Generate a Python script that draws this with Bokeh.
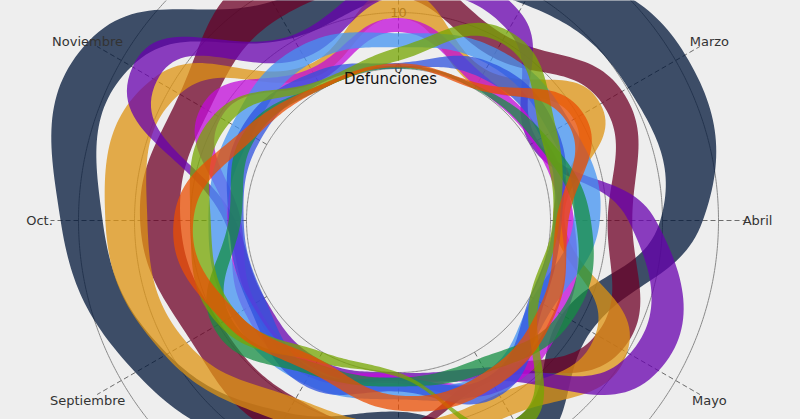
import math
import numpy as np
from bokeh.plotting import figure
from bokeh.models import Range1d, Label
from bokeh.core.properties import value
from bokeh.embed import file_html
from bokeh.resources import INLINE

# ---------------- data ----------------
months = ["Enero", "Febrero", "Marzo", "Abril", "Mayo", "Junio", "Julio",
          "Agosto", "Septiembre", "Oct.", "Noviembre", "Diciembre"]
y_ticks = [0, 10, 20, 30]
y_title = "Defunciones"

s1_low  = [13.0, 17.5, 20.2, 19.6, 6.5, 14.0, 7.0, 12.5, 20.5, 25.7, 27.9, 10.5]
s1_high = [21.0, 26.0, 32.0, 27.2, 12.5, 20.5, 14.0, 20.0, 27.1, 33.2, 36.8, 18.0]

s2_low  = [13.0, 6.5, 14.8, 10.2, 13.6, 4.0, 9.5, 9.5, 9.6, 11.8, 12.0, 14.8]
s2_high = [19.0, 11.0, 19.0, 14.6, 19.0, 6.0, 11.5, 16.5, 15.7, 19.0, 18.0, 24.0]

s3_low  = [9.0, 0.5, 9.0, 0.5, 13.5, 8.6, 9.0, 9.5, 16.5, 17.7, 18.0, 2.5]
s3_high = [14.0, 4.0, 14.5, 2.5, 20.0, 13.0, 14.0, 14.5, 21.0, 25.2, 23.5, 5.0]

s4_low  = [13.0, 12.0, 0.0, 13.9, 20.5, 3.2, 0.0, 1.4, 0.5, 2.0, 22.7, 6.4]
s4_high = [16.6, 16.0, 1.5, 18.8, 26.5, 5.9, 1.5, 4.6, 3.2, 4.0, 27.7, 11.0]

s5_low  = [6.5, 0.5, 0.5, 1.8, 5.0, 5.4, 0.3, 2.3, 2.3, 1.0, 9.5, 1.5]
s5_high = [9.0, 3.0, 2.8, 4.2, 7.2, 8.2, 2.0, 5.0, 4.8, 3.3, 13.5, 4.2]

s6_low  = [3.8, 5.0, 4.0, 4.1, 0.5, 4.0, 2.0, 3.2, 3.0, 3.4, 3.2, 5.0]
s6_high = [6.3, 8.2, 8.2, 8.8, 4.5, 7.2, 4.8, 6.5, 7.2, 6.8, 7.2, 8.6]

s7_low  = [0.0, 2.3, 2.3, 0.5, 0.0, 5.0, 0.9, 3.6, 0.5, 0.5, 1.4, 1.0]
s7_high = [1.0, 5.5, 5.5, 2.0, 2.8, 9.0, 3.4, 6.8, 3.6, 3.2, 5.4, 3.4]

s8_low  = [0.0, 0.0, 1.0, 4.5, 6.0, 1.4, 0.9, 2.3, 7.5, 1.0, 2.3, 0.0]
s8_high = [0.5, 0.7, 3.2, 7.2, 8.6, 4.2, 2.5, 4.6, 11.0, 3.2, 4.6, 0.8]

s9_low  = [1.4, 9.5, 2.3, 0.4, 0.0, 14.0, 0.0, 0.0, 6.0, 6.4, 7.7, 0.2]
s9_high = [3.8, 12.0, 5.4, 1.6, 1.8, 16.5, 0.8, 2.0, 10.0, 10.0, 10.8, 1.6]

s10_low  = [0.2, 0.0, 7.7, 1.0, 2.3, 4.0, 4.1, 1.4, 6.0, 9.5, 2.5, 0.0]
s10_high = [0.9, 1.2, 11.0, 3.2, 5.4, 7.2, 6.8, 4.2, 9.0, 13.0, 5.0, 0.8]

series = [
    ("s1", s1_low, s1_high, "#3d4d66"),
    ("s2", s2_low, s2_high, "#8e2e57"),
    ("s3", s3_low, s3_high, "#e2aa48"),
    ("s4", s4_low, s4_high, "#892cbe"),
    ("s5", s5_low, s5_high, "#cc44de"),
    ("s6", s6_low, s6_high, "#6eaaf0"),
    ("s7", s7_low, s7_high, "#5f78e1"),
    ("s8", s8_low, s8_high, "#4ba56e"),
    ("s9", s9_low, s9_high, "#94b83c"),
    ("s10", s10_low, s10_high, "#ea763e"),
]

# ---------------- layout / style ----------------
BG = "#eeeeee"
FONT = "DejaVu Sans"
W, H = 800, 419
CX, CY = 398, 220          # pane centre inside the figure (px from top-left)
R0 = 152.0                 # radius of value 0 (inner hole)
K = 5.6                    # px per unit
YMAX = 35
R_MAX = R0 + K * YMAX
ALPHA = 0.75

X0, X1 = -CX, W - CX
Y0, Y1 = -(H - CY), CY


def inside(x, y, mx=20, my=8):
    return X0 + mx < x < X1 - mx and Y0 + my < y < Y1 - my


def base_color(obs_hex, a=ALPHA, bg=BG):
    o = [int(obs_hex[i:i + 2], 16) for i in (1, 3, 5)]
    b = [int(bg[i:i + 2], 16) for i in (1, 3, 5)]
    c = [max(0, min(255, round((oc - (1 - a) * bc) / a))) for oc, bc in zip(o, b)]
    return "#%02x%02x%02x" % tuple(c)


def to_xy(vals):
    ang = np.radians(np.arange(len(vals)) * 360.0 / len(vals))
    r = R0 + K * np.asarray(vals, dtype=float)
    return r * np.sin(ang), -r * np.cos(ang)      # screen orientation (y down)


def spline_closed(xs, ys, n=30):
    N = len(xs)
    sm, den = 1.5, 2.5
    lc, rc = [], []
    for i in range(N):
        px, py = xs[i], ys[i]
        lx, ly = xs[i - 1], ys[i - 1]
        nx, ny = xs[(i + 1) % N], ys[(i + 1) % N]
        lcx, lcy = (sm * px + lx) / den, (sm * py + ly) / den
        rcx, rcy = (sm * px + nx) / den, (sm * py + ny) / den
        dl = math.hypot(lcx - px, lcy - py)
        dr = math.hypot(rcx - px, rcy - py)
        la = math.atan2(lcy - py, lcx - px)
        ra = math.atan2(rcy - py, rcx - px)
        ja = math.pi / 2 + (la + ra) / 2
        if abs(la - ja) > math.pi / 2:
            ja -= math.pi
        lc.append((px + math.cos(ja) * dl, py + math.sin(ja) * dl))
        rc.append((px + math.cos(math.pi + ja) * dr, py + math.sin(math.pi + ja) * dr))
    t = np.linspace(0, 1, n, endpoint=False)
    ox, oy = [], []
    for i in range(1, N + 1):
        p0 = (xs[i - 1], ys[i - 1])
        p1 = rc[i - 1]
        p2 = lc[i % N]
        p3 = (xs[i % N], ys[i % N])
        for k in range(2):
            P = [p0[k], p1[k], p2[k], p3[k]]
            seg = ((1 - t) ** 3) * P[0] + 3 * ((1 - t) ** 2) * t * P[1] \
                + 3 * (1 - t) * t * t * P[2] + t ** 3 * P[3]
            (ox if k == 0 else oy).extend(seg.tolist())
    return np.array(ox), -np.array(oy)             # back to y up


p = figure(width=W, height=H, output_backend="svg", toolbar_location=None,
           x_range=Range1d(X0, X1), y_range=Range1d(Y0, Y1), min_border=0)
p.axis.visible = False
p.grid.visible = False
p.outline_line_color = None
p.background_fill_color = BG
p.border_fill_color = BG

# grid circles
th = np.linspace(0, 2 * math.pi, 721)
for v in y_ticks:
    r = R0 + K * v
    p.line(r * np.sin(th), r * np.cos(th), line_color="#8a8a8a", line_width=1)

# radial dashed grid lines
for i, m in enumerate(months):
    a = math.radians(i * 30)
    p.line([R0 * math.sin(a), R_MAX * math.sin(a)], [R0 * math.cos(a), R_MAX * math.cos(a)],
           line_color="#555555", line_width=1, line_dash="5 3", line_alpha=0.85)

# y tick labels (under the series)
ty = [(str(v), R0 + K * v) for v in y_ticks if inside(0, R0 + K * v, my=6)]
p.text(x=[0] * len(ty), y=[t[1] for t in ty], text=[t[0] for t in ty],
       text_align="center", text_baseline="middle", text_font=value(FONT),
       text_font_size="13px", text_color="#444444")

# series
for name, lo, hi, col in series:
    hx, hy = spline_closed(*to_xy(hi))
    lx, ly = spline_closed(*to_xy(lo))
    p.multi_polygons(xs=[[[hx.tolist(), lx[::-1].tolist()]]], ys=[[[hy.tolist(), ly[::-1].tolist()]]],
                     fill_color=base_color(col), fill_alpha=ALPHA, line_color=None)

# month labels (only those that fall inside the visible frame)
for i, m in enumerate(months):
    a = math.radians(i * 30)
    rl = R_MAX + 11
    x, y = rl * math.sin(a), rl * math.cos(a)
    if inside(x, y):
        p.add_layout(Label(x=x, y=y, text=m, text_align="center", text_baseline="middle",
                           text_font=FONT, text_font_size="13px", text_color="#333333"))

# y axis title
p.add_layout(Label(x=-8, y=R0 - 10, text=y_title, text_align="center", text_baseline="middle",
                   text_font=FONT, text_font_size="15px", text_color="#111111"))

html = file_html(p, INLINE)
html = html.replace("<body>", '<body style="background:#eeeeee">')
open("out.html", "w").write(html)
